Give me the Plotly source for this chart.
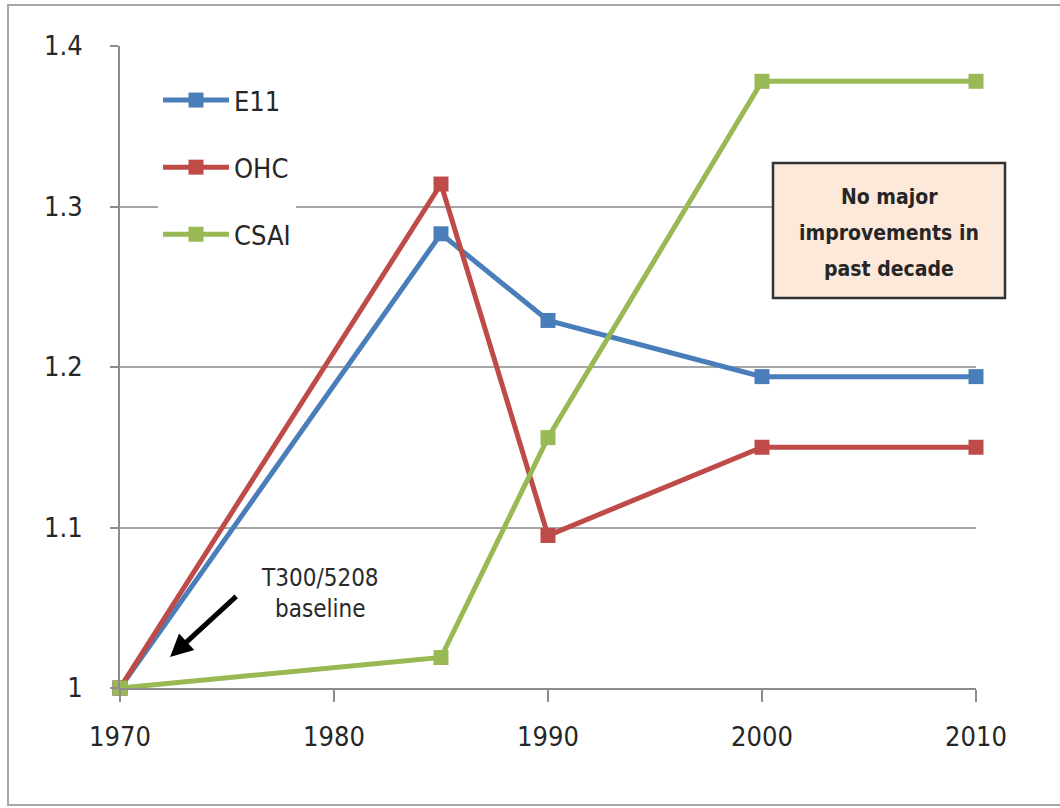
import plotly.graph_objects as go

# Years and relative values for each model
years = [1970, 1985, 1990, 2000, 2010]
e11 = [1.0, 1.283, 1.229, 1.194, 1.194]
ohc = [1.0, 1.314, 1.095, 1.150, 1.150]
csai = [1.0, 1.019, 1.156, 1.378, 1.378]

series_names = ["E11", "OHC", "CSAI"]
series_values = [e11, ohc, csai]
series_colors = ["#4A7EBB", "#BE4B48", "#98B954"]

x_ticks = [1970, 1980, 1990, 2000, 2010]
y_ticks = [1.0, 1.1, 1.2, 1.3, 1.4]
y_tick_text = ["1", "1.1", "1.2", "1.3", "1.4"]

callout_lines = ["No major", "improvements in", "past decade"]

FONT = "DejaVu Sans Condensed, DejaVu Sans, sans-serif"
TEXT_COLOR = "#262626"
AXIS_GRAY = "#8C8C8C"

# plot area in pixels within the 1060x808 page
W, H = 1060, 808
L, R, T, B = 120, 84, 46, 120
PW, PH = W - L - R, H - T - B


def px_x(px):
    return (px - L) / PW


def px_y(py):
    return (H - B - py) / PH


fig = go.Figure()
for name, vals, color in zip(series_names, series_values, series_colors):
    fig.add_trace(go.Scatter(
        x=years, y=vals, name=name, mode="lines+markers",
        line=dict(color=color, width=5),
        marker=dict(symbol="square", size=15, color=color,
                    line=dict(color=color, width=0)),
        cliponaxis=False, legendgroup=name,
    ))

# outer frame
fig.add_shape(type="rect", xref="paper", yref="paper",
              x0=px_x(8), x1=px_x(1070), y0=px_y(805), y1=px_y(5),
              line=dict(color="#A6A6A6", width=2), fillcolor="rgba(0,0,0,0)",
              layer="below")

# callout box, one annotation per line for wider line spacing
fig.add_shape(type="rect", xref="paper", yref="paper",
              x0=px_x(773), x1=px_x(1005), y0=px_y(298), y1=px_y(163),
              line=dict(color="#333333", width=2.5), fillcolor="#FDE9D9",
              layer="above")
for i, line_text in enumerate(callout_lines):
    fig.add_annotation(xref="paper", yref="paper",
                       x=px_x(889), y=px_y(197 + 36 * i),
                       xanchor="center", yanchor="middle",
                       text="<b>" + line_text + "</b>",
                       showarrow=False, align="center",
                       font=dict(family=FONT, size=21, color=TEXT_COLOR))

# baseline arrow and label
fig.add_annotation(x=1972.34, y=1.0193, ax=1975.5, ay=1.058,
                   xref="x", yref="y", axref="x", ayref="y",
                   text="", showarrow=True, arrowhead=2, arrowsize=0.9,
                   arrowwidth=5, arrowcolor="#000000", standoff=0)
fig.add_annotation(x=1979.35, y=1.059, xref="x", yref="y",
                   xanchor="center", yanchor="middle",
                   text="T300/5208<br>baseline", showarrow=False,
                   align="center",
                   font=dict(family=FONT, size=24, color="#2A2A2A"))

fig.update_layout(
    width=W, height=H, autosize=False,
    margin=dict(l=L, r=R, t=T, b=B),
    paper_bgcolor="white", plot_bgcolor="white",
    font=dict(family=FONT, size=27, color=TEXT_COLOR),
    showlegend=True,
    legend=dict(x=px_x(158), y=px_y(76), xanchor="left", yanchor="top",
                bgcolor="white", borderwidth=0, itemwidth=66,
                tracegroupgap=29, traceorder="grouped",
                font=dict(family=FONT, size=27, color=TEXT_COLOR)),
    xaxis=dict(range=[1970, 2010], tickvals=x_ticks,
               ticks="outside", ticklen=12, tickwidth=2, tickcolor=AXIS_GRAY,
               showline=True, linecolor=AXIS_GRAY, linewidth=2,
               showgrid=False, zeroline=False, ticklabelstandoff=12,
               tickfont=dict(family=FONT, size=27, color=TEXT_COLOR)),
    yaxis=dict(range=[1.0, 1.4], tickvals=y_ticks, ticktext=y_tick_text,
               ticks="outside", ticklen=8, tickwidth=2, tickcolor=AXIS_GRAY,
               showline=True, linecolor=AXIS_GRAY, linewidth=2,
               showgrid=True, gridcolor="#A6A6A6", gridwidth=2,
               zeroline=False, ticklabelstandoff=22,
               tickfont=dict(family=FONT, size=27, color=TEXT_COLOR)),
)

fig.write_html("out.html")
